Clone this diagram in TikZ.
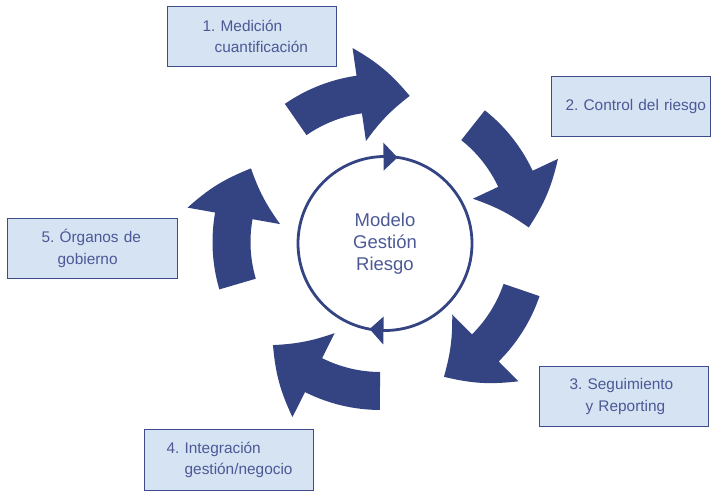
\documentclass[tikz,border=0pt]{standalone}
\usepackage{fontspec}
\setmainfont{Liberation Sans}
\usetikzlibrary{calc}
\definecolor{navy}{RGB}{52,67,130}
\definecolor{boxfill}{RGB}{214,227,243}
\definecolor{boxline}{RGB}{62,76,140}
\definecolor{txt}{RGB}{76,89,150}
\begin{document}
\frenchspacing
\begin{tikzpicture}[x=1pt,y=1pt,
  labelbox/.style={draw=boxline, line width=1.3pt, fill=boxfill, inner sep=0pt,
    minimum height=60pt, text=txt, align=left, anchor=south west,
    font=\fontsize{15.4}{21.5}\selectfont\frenchspacing},
  bigarrow/.style={fill=navy},
  headtri/.style={fill=navy}]
\useasboundingbox (0,0) rectangle (712,492);
% boxes
\node[labelbox, text width=169pt] (b1) at (167,425) {\hspace*{35pt}1. Medición\\\hspace*{47pt}cuantificación};
\node[labelbox, text width=159pt] (b2) at (551,355) {\hspace*{14pt}2. Control del riesgo};
\node[labelbox, text width=169pt] (b3) at (539,65) {\hspace*{30pt}3. Seguimiento\\\hspace*{46pt}y Reporting};
\node[labelbox, text width=169pt, minimum height=61pt] (b4) at (144,1) {\hspace*{22pt}4. Integración\\\hspace*{40pt}gestión/negocio};
\node[labelbox, text width=170pt] (b5) at (7,213) {\hspace*{34pt}5. Órganos de\\\hspace*{50pt}gobierno};
% big curved arrows
\coordinate (R) at (380.5,250);
\foreach \t in {124.7,51.6,-18.8,-90.2,-163.6}{
  \pgfmathsetmacro\b{\t-26.5}
  \pgfmathsetmacro\p{\t-46}
  \fill[bigarrow] ($(R)+(\t:168pt)$) arc[start angle=\t, end angle=\b, radius=168pt]
    -- ($(R)+(\b:196pt)$) to[bend left=10] ($(R)+(\p:149pt)$) to[bend right=8] ($(R)+(\b:102pt)$)
    -- ($(R)+(\b:130pt)$) arc[start angle=\b, end angle=\t, radius=130pt] -- cycle;
}
% central circle
\node[circle, draw=navy, line width=2.8pt, minimum size=174pt, inner sep=0pt,
  text=txt, align=center, font=\fontsize{18.5}{22}\selectfont] (M) at (385,248.5)
  {Modelo\\Gestión\\Riesgo};
\fill[headtri] ($(M.center)+(81.7:86.9pt)$) -- ($(M.center)+(91:101pt)$) -- ($(M.center)+(91:73pt)$) -- cycle;
\fill[headtri] ($(M.center)+(-100.2:86.9pt)$) -- ($(M.center)+(-91:101pt)$) -- ($(M.center)+(-91:73pt)$) -- cycle;
\end{tikzpicture}
\end{document}
